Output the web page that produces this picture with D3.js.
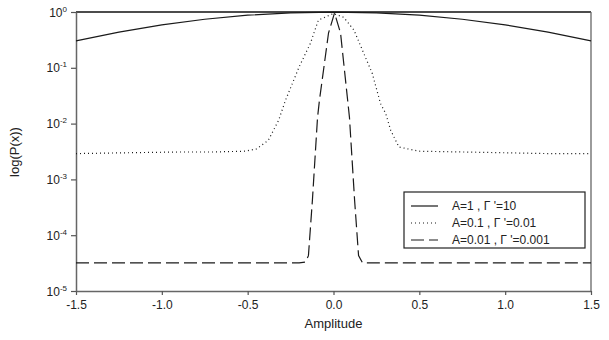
<!DOCTYPE html>
<html>
<head>
<meta charset="utf-8">
<script src="https://cdn.jsdelivr.net/npm/d3@7"></script>
<style>
  body { margin: 0; background: #fff; }
  text { font-family: "Liberation Sans", Arial, sans-serif; fill: #222; }
</style>
</head>
<body>
<script>
// chart size
var svgWidth = 609;
var svgHeight = 340;

var margin = { top: 12, right: 18, bottom: 49, left: 76 };
var width = svgWidth - margin.left - margin.right;
var height = svgHeight - margin.top - margin.bottom;

// data
var xTicks = [-1.5, -1.0, -0.5, 0.0, 0.5, 1.0, 1.5];
var yExps = [0, -1, -2, -3, -4, -5];

// A=1, G'=10
var solidX = [-1.5, -1.25, -1.0, -0.75, -0.5, -0.25, 0, 0.25, 0.5, 0.75, 1.0, 1.25, 1.5];
var solidY = [0.303, 0.437, 0.589, 0.742, 0.876, 0.967, 0.995, 0.967, 0.876, 0.742, 0.589, 0.437, 0.303];

// A=0.1, G'=0.01
var dotX = [-1.5, -1.2, -0.9, -0.7, -0.52, -0.45, -0.38, -0.32, -0.28, -0.20, -0.134, -0.088, 0,
            0.06, 0.119, 0.226, 0.274, 0.304, 0.333, 0.381, 0.5, 0.75, 1.0, 1.25, 1.5];
var dotY = [0.0029, 0.0030, 0.0031, 0.0031, 0.0032, 0.0035, 0.0050, 0.0114, 0.026, 0.104, 0.277, 0.718, 0.94,
            0.80, 0.474, 0.079, 0.0228, 0.0152, 0.0076, 0.0038, 0.0032, 0.0031, 0.0030, 0.0029, 0.0029];

// A=0.01, G'=0.001
var dashX = [-1.5, -0.5, -0.2, -0.163, -0.146, -0.123, -0.093, -0.082, -0.029, 0.006,
             0.041, 0.093, 0.123, 0.146, 0.169, 0.5, 1.5];
var dashY = [3.2e-5, 3.2e-5, 3.2e-5, 3.3e-5, 4.3e-5, 4.2e-4, 0.0129, 0.026, 0.42, 0.96,
             0.42, 0.0129, 4.2e-4, 4.3e-5, 3.2e-5, 3.2e-5, 3.2e-5];

var legendLabels = ["A=1 , \u0393 '=10", "A=0.1 , \u0393 '=0.01", "A=0.01 , \u0393 '=0.001"];

var series = [
  { xs: solidX, ys: solidY, dash: null },
  { xs: dotX, ys: dotY, dash: "1,3" },
  { xs: dashX, ys: dashY, dash: "13,5" }
];

var svg = d3.select("body")
  .append("svg")
  .attr("width", svgWidth)
  .attr("height", svgHeight);

var chartGroup = svg.append("g")
  .attr("transform", `translate(${margin.left}, ${margin.top})`);

var xScale = d3.scaleLinear()
  .domain([-1.5, 1.5])
  .range([0, width]);

var yScale = d3.scaleLog()
  .domain([1e-5, 1])
  .range([height, 0]);

// frame (top + right)
chartGroup.append("line")
  .attr("x1", 0).attr("x2", width).attr("y1", 0).attr("y2", 0)
  .attr("stroke", "#111").attr("stroke-width", 1.3);
chartGroup.append("line")
  .attr("x1", width).attr("x2", width).attr("y1", 0).attr("y2", height)
  .attr("stroke", "#666").attr("stroke-width", 1.3);

// axes
var bottomAxis = d3.axisBottom(xScale)
  .tickValues(xTicks)
  .tickSizeInner(4)
  .tickSizeOuter(0)
  .tickPadding(5)
  .tickFormat(d => d3.format(".1f")(d).replace("\u2212", "-"));

var leftAxis = d3.axisLeft(yScale)
  .tickValues(yExps.map(e => Math.pow(10, e)))
  .tickSizeInner(5)
  .tickSizeOuter(0)
  .tickPadding(4)
  .tickFormat("");

var xg = chartGroup.append("g")
  .attr("transform", `translate(0, ${height})`)
  .call(bottomAxis);

var yg = chartGroup.append("g")
  .call(leftAxis);

[xg, yg].forEach(function(g) {
  g.select(".domain").attr("stroke", "#666").attr("stroke-width", 1.5);
  g.selectAll(".tick line").attr("stroke", "#555").attr("stroke-width", 1.2);
  g.selectAll("text").attr("font-size", 12).attr("fill", "#222")
    .attr("font-family", "Liberation Sans, Arial, sans-serif");
});

// superscript y tick labels
yg.selectAll(".tick").each(function(d) {
  var e = Math.round(Math.log10(d));
  var t = d3.select(this).append("text")
    .attr("x", -9)
    .attr("y", 4)
    .attr("text-anchor", "end")
    .attr("font-size", 12)
    .attr("fill", "#222");
  t.append("tspan").text("10");
  t.append("tspan").attr("font-size", 8).attr("dy", -5).text(e === 0 ? "0" : "-" + Math.abs(e));
});

// lines
var line = d3.line()
  .x(d => xScale(d[0]))
  .y(d => yScale(d[1]));

series.forEach(function(s) {
  var pts = s.xs.map((x, i) => [x, s.ys[i]]);
  chartGroup.append("path")
    .datum(pts)
    .attr("fill", "none")
    .attr("stroke", "#1a1a1a")
    .attr("stroke-width", 1.2)
    .attr("stroke-dasharray", s.dash)
    .attr("d", line);
});

// axis titles
svg.append("text")
  .attr("x", margin.left + width / 2)
  .attr("y", 328)
  .attr("text-anchor", "middle")
  .attr("font-size", 13)
  .text("Amplitude");

svg.append("text")
  .attr("transform", "translate(19, 152) rotate(-90)")
  .attr("text-anchor", "middle")
  .attr("font-size", 13)
  .text("log(P(x))");

// legend
var legend = svg.append("g").attr("transform", "translate(404, 192)");
legend.append("rect")
  .attr("width", 181).attr("height", 56)
  .attr("fill", "#fff").attr("stroke", "#222").attr("stroke-width", 1.2);

legendLabels.forEach(function(lab, i) {
  var y = 14 + i * 17;
  legend.append("line")
    .attr("x1", 7).attr("x2", 34).attr("y1", y).attr("y2", y)
    .attr("stroke", "#1a1a1a").attr("stroke-width", 1.2)
    .attr("stroke-dasharray", series[i].dash);
  legend.append("text")
    .attr("x", 48).attr("y", y + 4)
    .attr("font-size", 12)
    .text(lab);
});
</script>
</body>
</html>
